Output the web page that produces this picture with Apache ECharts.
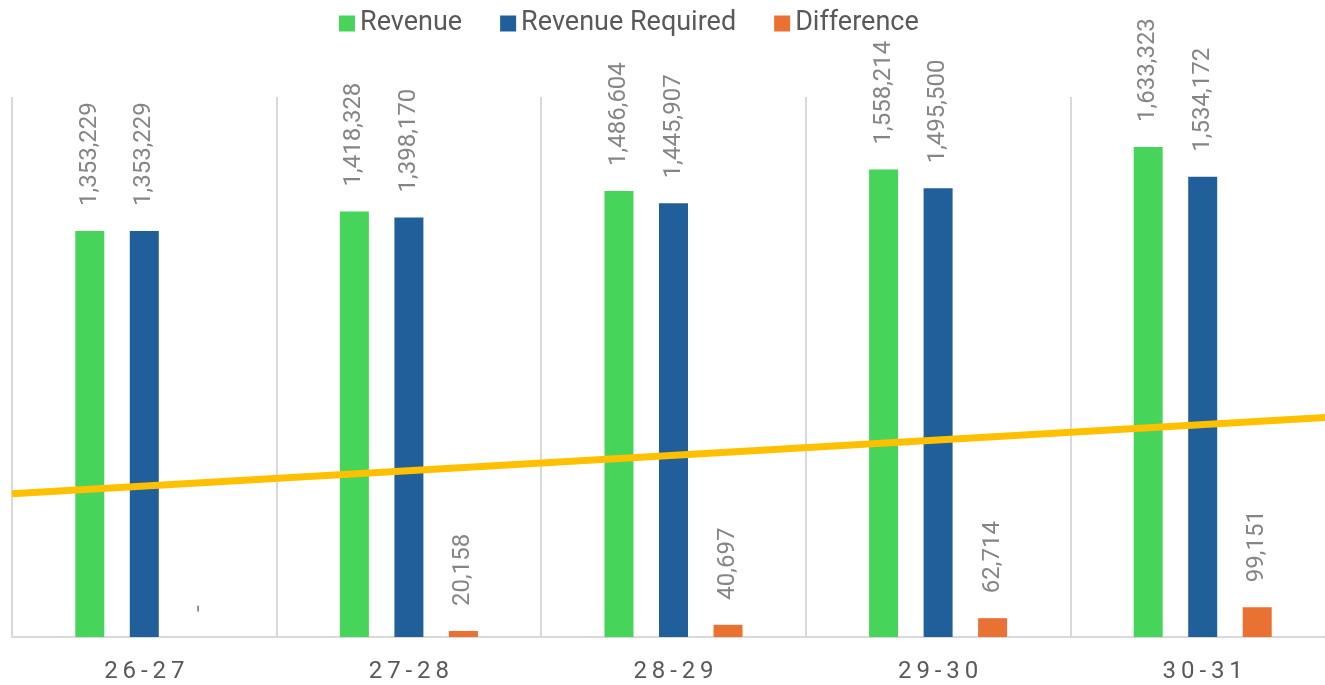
<!DOCTYPE html>
<html>
<head>
<meta charset="utf-8">
<script src="https://cdn.jsdelivr.net/npm/echarts@6/dist/echarts.min.js"></script>
<style>
  html, body { margin: 0; padding: 0; background: #fff; }
  #main { width: 1325px; height: 685px; }
</style>
</head>
<body>
<div id="main"></div>
<script>
const categories = ['26-27', '27-28', '28-29', '29-30', '30-31'];
const revenue = [1353229, 1418328, 1486604, 1558214, 1633323];
const revenueRequired = [1353229, 1398170, 1445907, 1495500, 1534172];
const difference = [0, 20158, 40697, 62714, 99151];
// yellow line, value at the left edge and at the right edge of the plot
const trendEnds = [477800, 733700];

function fmt(v) {
    if (v === 0) return '-';
    return v.toLocaleString('en-US');
}

var barLabel = {
    show: true,
    position: 'top',
    rotate: 90,
    align: 'left',
    verticalAlign: 'middle',
    distance: 25,
    fontFamily: 'Roboto',
    fontSize: 24,
    color: '#858585',
    formatter: function (p) { return fmt(p.value); }
};

var myChart = echarts.init(document.getElementById('main'));
var option = {
    animation: false,
    textStyle: { fontFamily: 'Roboto' },
    legend: {
        left: 334,
        top: 5,
        itemWidth: 16,
        itemHeight: 16,
        itemGap: 38,
        icon: 'rect',
        data: ['Revenue', 'Revenue Required', 'Difference'],
        textStyle: { fontSize: 27, color: '#595959', fontFamily: 'Roboto' }
    },
    grid: {
        left: 12,
        top: 97,
        width: 1323,
        bottom: 48,
        containLabel: false,
        outerBoundsMode: 'none'
    },
    xAxis: [
        {
            type: 'category',
            data: categories,
            axisLine: { show: true, lineStyle: { color: '#d9d9d9', width: 2 } },
            axisTick: { show: false },
            splitLine: { show: true, lineStyle: { color: '#d9d9d9', width: 2 } },
            axisLabel: {
                fontSize: 24,
                color: '#595959',
                margin: 23,
                fontFamily: 'Roboto',
                // spaced-out letters like the original
                formatter: function (v) { return v.split('').join('\u2009'); }
            }
        },
        {
            type: 'value',
            min: 0,
            max: categories.length,
            show: false
        }
    ],
    yAxis: {
        type: 'value',
        min: 0,
        max: 1800000,
        show: false
    },
    series: [
        {
            name: 'Revenue',
            type: 'bar',
            data: revenue,
            barWidth: 29,
            barGap: '88%',
            itemStyle: { color: '#47d45a' },
            label: barLabel
        },
        {
            name: 'Revenue Required',
            type: 'bar',
            data: revenueRequired,
            barWidth: 29,
            barGap: '88%',
            itemStyle: { color: '#215f9a' },
            label: barLabel
        },
        {
            name: 'Difference',
            type: 'bar',
            data: difference,
            barWidth: 29,
            barGap: '88%',
            itemStyle: { color: '#e97132' },
            label: barLabel
        },
        {
            name: 'trend',
            type: 'line',
            xAxisIndex: 1,
            data: [[0, trendEnds[0]], [categories.length, trendEnds[1]]],
            symbol: 'none',
            silent: true,
            z: 5,
            lineStyle: { color: '#ffc000', width: 7 }
        }
    ]
};

myChart.setOption(option);
</script>
</body>
</html>
